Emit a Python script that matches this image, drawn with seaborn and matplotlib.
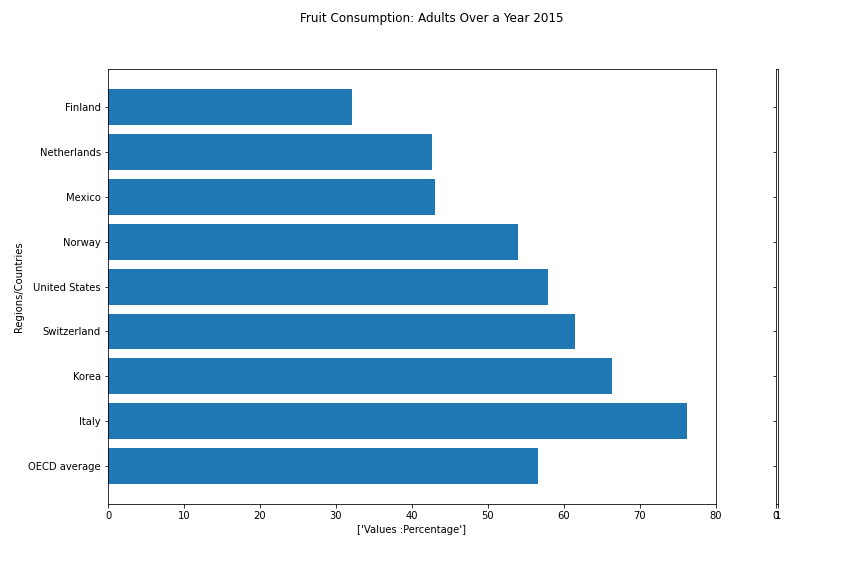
import numpy as np
import pandas as pd
import matplotlib
matplotlib.use("Agg")
import matplotlib.pyplot as plt
import seaborn as sns

countries = ["Finland", "Netherlands", "Mexico", "Norway", "United States",
             "Switzerland", "Korea", "Italy", "OECD average"]
values = [32.1, 42.6, 43.0, 53.9, 57.9, 61.4, 66.3, 76.2, 56.6]

df = pd.DataFrame({"country": countries, "value": values})

# 12x8 in at 72 dpi -> 864x576 px
fig = plt.figure(figsize=(12, 8), dpi=72)
ax = fig.add_axes([0.125, 0.125, 0.7037, 0.755])
side = fig.add_axes([0.898, 0.125, 0.0023, 0.755], sharey=ax)

sns.barplot(data=df, x="value", y="country", orient="h", color="#1f77b4",
            saturation=1, width=0.8, ax=ax)

n = len(countries)
pad = 0.05 * (n - 1 + 0.8)
ax.set_ylim(n - 1 + 0.4 + pad, -0.4 - pad)
ax.set_xlim(0, 80)
ax.set_xticks(np.arange(0, 81, 10))
ax.set_xlabel("['Values :Percentage']")
ax.set_ylabel("Regions/Countries")

side.set_xlim(0, 1)
side.set_xticks([0, 1])
side.tick_params(axis="y", labelleft=False)
side.set_ylabel("")

fig.suptitle("Fruit Consumption: Adults Over a Year 2015")
fig.savefig("out.png", dpi=72)
